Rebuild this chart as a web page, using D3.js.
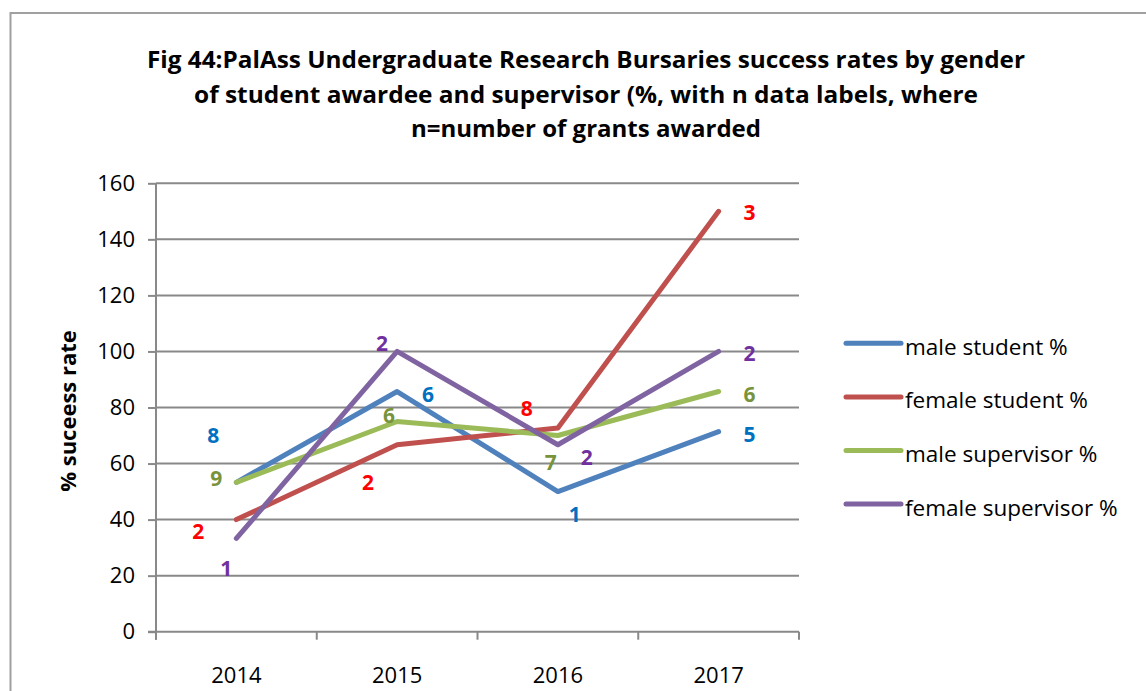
<!DOCTYPE html>
<html>
<head>
<meta charset="utf-8">
<script src="https://cdn.jsdelivr.net/npm/d3@7"></script>
<style>
  html, body { margin: 0; padding: 0; background: #fff; }
  svg { display: block; }
</style>
</head>
<body>
<svg id="chart" width="1146" height="691"></svg>
<script>
// ---- data ----
const years = ["2014", "2015", "2016", "2017"];
const seriesNames = ["male student %", "female student %", "male supervisor %", "female supervisor %"];
const maleStudent = [53.3, 85.7, 50, 71.4];
const femaleStudent = [40, 66.7, 72.7, 150];
const maleSupervisor = [53.3, 75, 70, 85.7];
const femaleSupervisor = [33.3, 100, 66.7, 100];
// n = number of grants awarded (data labels)
const maleStudentN = [8, 6, 1, 5];
const femaleStudentN = [2, 2, 8, 3];
const maleSupervisorN = [9, 6, 7, 6];
const femaleSupervisorN = [1, 2, 2, 2];
const yTicks = [0, 20, 40, 60, 80, 100, 120, 140, 160];
const titleLines = [
  "Fig 44:PalAss Undergraduate Research Bursaries success rates by gender",
  "of student awardee and supervisor (%, with n data labels, where",
  "n=number of grants awarded"
];
const yTitle = "% suceess rate";

// ---- styles ----
const lineColors = ["#4F81BD", "#C0504D", "#9BBB59", "#8064A2"];
const labelColors = ["#0070C0", "#FF0000", "#77933C", "#7030A0"];
// label offsets from each point (px), per series
const labelOffsets = [
  [[-23, -47], [31, 3], [17, 23], [31, 3]],
  [[-38, 12], [-29, 38], [-31, -20], [31, 1]],
  [[-20, -4], [-8, -6], [-7, 27], [31, 3]],
  [[-10, 30], [-15, -8], [29, 13], [31, 2]]
];
// rendered widths of the three title lines
const titleWidths = [878, 784, 350];

const series = [
  { name: seriesNames[0], values: maleStudent, n: maleStudentN },
  { name: seriesNames[1], values: femaleStudent, n: femaleStudentN },
  { name: seriesNames[2], values: maleSupervisor, n: maleSupervisorN },
  { name: seriesNames[3], values: femaleSupervisor, n: femaleSupervisorN }
];

const FONT = "'Open Sans', 'Liberation Sans', sans-serif";
const gridColor = "#898989";

const svg = d3.select("#chart");

// outer frame
svg.append("path")
  .attr("d", "M10.5,691 V13 H1146")
  .attr("fill", "none")
  .attr("stroke", "#a0a0a0")
  .attr("stroke-width", 2);

// title
const title = svg.append("text")
  .attr("font-family", FONT)
  .attr("font-weight", "bold")
  .attr("font-size", 24)
  .attr("fill", "#000")
  .attr("text-anchor", "middle");
titleLines.forEach((t, i) => {
  title.append("tspan")
    .attr("x", 586).attr("y", 68 + i * 34.5)
    .attr("textLength", titleWidths[i])
    .attr("lengthAdjust", "spacingAndGlyphs")
    .text(t);
});

// plot area
const plot = { left: 156, right: 799, top: 183.3, bottom: 631.7 };
const x = d3.scaleBand().domain(years).range([plot.left, plot.right]);
const y = d3.scaleLinear().domain([0, 160]).range([plot.bottom, plot.top]);
const cx = d => x(d) + x.bandwidth() / 2;

// gridlines
svg.append("g")
  .selectAll("line")
  .data(yTicks.filter(v => v > 0))
  .join("line")
  .attr("x1", plot.left).attr("x2", plot.right)
  .attr("y1", d => y(d)).attr("y2", d => y(d))
  .attr("stroke", gridColor).attr("stroke-width", 2);

// y axis
const yAxis = svg.append("g")
  .attr("transform", `translate(${plot.left},0)`)
  .call(d3.axisLeft(y).tickValues(yTicks).tickSize(8).tickPadding(13).tickFormat(d3.format("d")));
yAxis.select(".domain").remove();
yAxis.selectAll(".tick line").attr("stroke", gridColor).attr("stroke-width", 2);
yAxis.selectAll(".tick text")
  .attr("font-family", FONT).attr("font-size", 22).attr("fill", "#000");
svg.append("line")
  .attr("x1", plot.left).attr("x2", plot.left)
  .attr("y1", plot.top).attr("y2", plot.bottom + 8)
  .attr("stroke", gridColor).attr("stroke-width", 2);

// x axis
const xAxis = svg.append("g")
  .attr("transform", `translate(0,${plot.bottom})`)
  .call(d3.axisBottom(x).tickSize(0).tickPadding(36));
xAxis.select(".domain").remove();
xAxis.selectAll(".tick text")
  .attr("font-family", FONT).attr("font-size", 22).attr("fill", "#000");
svg.append("line")
  .attr("x1", plot.left - 8).attr("x2", plot.right)
  .attr("y1", plot.bottom).attr("y2", plot.bottom)
  .attr("stroke", gridColor).attr("stroke-width", 2);
const bounds = years.map(d => x(d)).concat([plot.right]);
svg.append("g").selectAll("line")
  .data(bounds)
  .join("line")
  .attr("x1", d => d).attr("x2", d => d)
  .attr("y1", plot.bottom).attr("y2", plot.bottom + 8)
  .attr("stroke", gridColor).attr("stroke-width", 2);

// y axis title
svg.append("text")
  .attr("transform", `translate(75.5,411) rotate(-90)`)
  .attr("text-anchor", "middle")
  .attr("font-family", FONT).attr("font-weight", "bold").attr("font-size", 22)
  .attr("fill", "#000")
  .text(yTitle);

// lines
const line = d3.line().x((d, i) => cx(years[i])).y(d => y(d));
svg.append("g")
  .selectAll("path")
  .data(series)
  .join("path")
  .attr("d", s => line(s.values))
  .attr("fill", "none")
  .attr("stroke", (s, i) => lineColors[i])
  .attr("stroke-width", 5)
  .attr("stroke-linecap", "round")
  .attr("stroke-linejoin", "round");

// n data labels
series.forEach((s, si) => {
  svg.append("g").selectAll("text")
    .data(s.values)
    .join("text")
    .attr("x", (v, i) => cx(years[i]) + labelOffsets[si][i][0])
    .attr("y", (v, i) => y(v) + labelOffsets[si][i][1])
    .attr("dy", "0.36em")
    .attr("text-anchor", "middle")
    .attr("font-family", FONT).attr("font-weight", "bold").attr("font-size", 21)
    .attr("fill", labelColors[si])
    .text((v, i) => s.n[i]);
});

// legend
const legend = svg.append("g")
  .selectAll("g")
  .data(series)
  .join("g")
  .attr("transform", (s, i) => `translate(846,${343.3 + i * 53.6})`);
legend.append("line")
  .attr("x1", 0).attr("x2", 55)
  .attr("stroke", (s, i) => lineColors[i])
  .attr("stroke-width", 5)
  .attr("stroke-linecap", "round");
legend.append("text")
  .attr("x", 59)
  .attr("y", 11.5)
  .attr("font-family", FONT).attr("font-size", 22.5)
  .attr("fill", "#000")
  .text(s => s.name);
</script>
</body>
</html>
